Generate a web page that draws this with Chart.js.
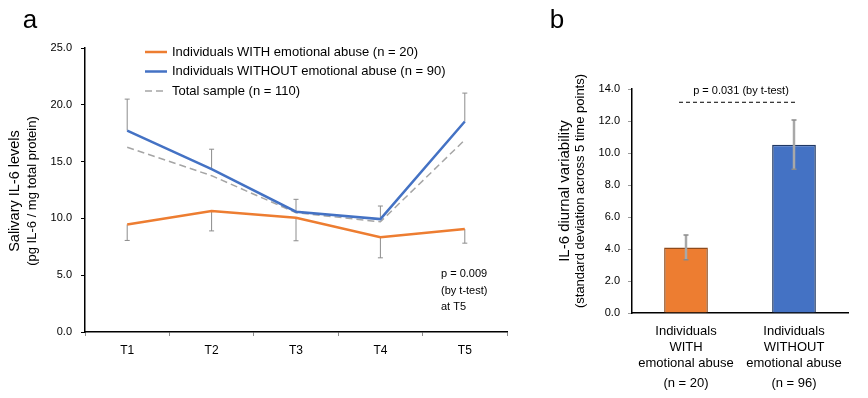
<!DOCTYPE html>
<html><head><meta charset="utf-8">
<script src="https://cdn.jsdelivr.net/npm/chart.js@4"></script>
<style>
html,body{margin:0;padding:0;background:#fff;}
#wrap{position:relative;width:868px;height:398px;overflow:hidden;}
#c1{position:absolute;left:0;top:0;}
#c2{position:absolute;left:530px;top:0;}
</style></head><body>
<div id="wrap"><canvas id="c1" width="530" height="398"></canvas><canvas id="c2" width="338" height="398"></canvas></div>
<script>
// ---- Panel a data ----
const timePoints = ['T1', 'T2', 'T3', 'T4', 'T5'];
const withAbuse = [9.47, 10.65, 10.06, 8.35, 9.06];
const withAbuseErr = [1.41, 1.75, 2.03, 1.82, 1.24];
const withoutAbuse = [17.73, 14.33, 10.59, 9.94, 18.53];
const withoutAbuseErr = [2.77, 1.76, 1.09, 1.15, 2.5];
const totalSample = [16.26, 13.76, 10.5, 9.7, 16.91];
const seriesLabels = ['Individuals WITH emotional abuse (n = 20)', 'Individuals WITHOUT emotional abuse (n = 90)', 'Total sample (n = 110)'];
const yTicksA = [0, 5, 10, 15, 20, 25];
const noteA = ['p = 0.009', '(by t-test)', 'at T5'];

// ---- Panel b data ----
const groups = [['Individuals', 'WITH', 'emotional abuse'], ['Individuals', 'WITHOUT', 'emotional abuse']];
const groupN = ['(n = 20)', '(n = 96)'];
const variability = [4.1, 10.52];
const variabilityErr = [0.77, 1.54];
const yTicksB = [0, 2, 4, 6, 8, 10, 12, 14];
const noteB = 'p = 0.031 (by t-test)';

const FONT = "'Liberation Sans', Arial, Helvetica, sans-serif";
Chart.defaults.font.family = FONT;
Chart.defaults.color = '#000';

const ORANGE = '#ED7D31', BLUE = '#4472C4', GRAY = '#A5A5A5';

const panelA = {
  id: 'panelA',
  beforeDatasetsDraw(chart) {
    const ctx = chart.ctx, y = chart.scales.y;
    ctx.save();
    ctx.strokeStyle = '#8C8C8C';
    ctx.lineWidth = 1;
    chart.data.datasets.forEach((ds, i) => {
      if (!ds.errors) return;
      const meta = chart.getDatasetMeta(i);
      ds.errors.forEach((e, j) => {
        const x = meta.data[j].x;
        const y0 = y.getPixelForValue(ds.data[j]);
        const y1 = y.getPixelForValue(ds.data[j] + ds.errDir * e);
        ctx.beginPath();
        ctx.moveTo(x, y0); ctx.lineTo(x, y1);
        ctx.moveTo(x - 2.5, y1); ctx.lineTo(x + 2.5, y1);
        ctx.stroke();
      });
    });
    ctx.restore();
  },
  afterDraw(chart) {
    const ctx = chart.ctx;
    ctx.save();
    ctx.fillStyle = '#000';
    ctx.font = '26px ' + FONT;
    ctx.textAlign = 'center'; ctx.textBaseline = 'middle';
    ctx.fillText('a', 30, 21);
    ctx.save();
    ctx.translate(15, 191);
    ctx.rotate(-Math.PI / 2);
    ctx.font = '14.5px ' + FONT;
    ctx.fillText('Salivary IL-6 levels', 0, 0);
    ctx.restore();
    ctx.save();
    ctx.translate(32, 191);
    ctx.rotate(-Math.PI / 2);
    ctx.font = '13px ' + FONT;
    ctx.fillText('(pg IL-6 / mg total protein)', 0, 0);
    ctx.restore();
    ctx.textAlign = 'left';
    ctx.font = '13px ' + FONT;
    chart.data.datasets.forEach((ds, i) => {
      const yy = 52 + i * 19.5;
      ctx.strokeStyle = ds.borderColor;
      ctx.lineWidth = ds.borderWidth;
      ctx.setLineDash(ds.borderDash || []);
      ctx.beginPath(); ctx.moveTo(145, yy); ctx.lineTo(167, yy); ctx.stroke();
      ctx.setLineDash([]);
      ctx.fillText(ds.label, 172, yy);
    });
    ctx.font = '11px ' + FONT;
    noteA.forEach((t, i) => ctx.fillText(t, 441, 274 + i * 16.7));
    ctx.restore();
  }
};

new Chart(document.getElementById('c1'), {
  type: 'line',
  data: {
    labels: timePoints,
    datasets: [
      { label: seriesLabels[0], data: withAbuse, borderColor: ORANGE, borderWidth: 2.5, pointRadius: 0, errors: withAbuseErr, errDir: -1 },
      { label: seriesLabels[1], data: withoutAbuse, borderColor: BLUE, borderWidth: 2.5, pointRadius: 0, errors: withoutAbuseErr, errDir: 1 },
      { label: seriesLabels[2], data: totalSample, borderColor: GRAY, borderWidth: 1.5, borderDash: [7, 4], pointRadius: 0 }
    ]
  },
  options: {
    responsive: false, animation: false,
    layout: { padding: { left: 0, right: 23, top: 48, bottom: 0 } },
    plugins: { legend: { display: false }, tooltip: { enabled: false } },
    scales: {
      x: {
        offset: true,
        grid: { offset: true, drawOnChartArea: false, tickLength: 4, color: '#8C8C8C' },
        border: { color: '#000', width: 1.5 },
        ticks: { font: { size: 12 }, padding: 7, color: '#000' },
        afterFit(s) { s.height = 66; }
      },
      y: {
        min: 0, max: 25,
        afterBuildTicks(s) { s.ticks = yTicksA.map(v => ({ value: v })); },
        ticks: { callback: v => Number(v).toFixed(1), font: { size: 11 }, padding: 9, color: '#000' },
        grid: { drawOnChartArea: false, tickLength: 4, color: '#000' },
        border: { color: '#000', width: 1.5 },
        afterFit(s) { s.width = 85; }
      }
    }
  },
  plugins: [panelA]
});

const panelB = {
  id: 'panelB',
  afterDatasetsDraw(chart) {
    const ctx = chart.ctx, y = chart.scales.y;
    const ds = chart.data.datasets[0];
    const meta = chart.getDatasetMeta(0);
    ctx.save();
    ds.errors.forEach((e, j) => {
      const x = meta.data[j].x;
      const y1 = y.getPixelForValue(ds.data[j] + e);
      const y2 = y.getPixelForValue(ds.data[j] - e);
      ctx.strokeStyle = '#A8A8A8';
      ctx.lineWidth = 2.5;
      ctx.beginPath(); ctx.moveTo(x, y1); ctx.lineTo(x, y2); ctx.stroke();
      ctx.strokeStyle = '#8A8A8A';
      ctx.lineWidth = 1.5;
      ctx.beginPath();
      ctx.moveTo(x - 2.5, y1); ctx.lineTo(x + 2.5, y1);
      ctx.moveTo(x - 2.5, y2); ctx.lineTo(x + 2.5, y2);
      ctx.stroke();
    });
    const x0 = meta.data[0].x, x1 = meta.data[1].x;
    const yl = y.getPixelForValue(13.17);
    ctx.strokeStyle = '#000'; ctx.lineWidth = 1; ctx.setLineDash([4, 3]);
    ctx.beginPath(); ctx.moveTo(x0 - 7, yl); ctx.lineTo(x1 + 2, yl); ctx.stroke();
    ctx.setLineDash([]);
    ctx.fillStyle = '#000';
    ctx.font = '11px ' + FONT;
    ctx.textAlign = 'center'; ctx.textBaseline = 'middle';
    ctx.fillText(noteB, (x0 + x1) / 2 + 1, yl - 11);
    ctx.font = '13px ' + FONT;
    groupN.forEach((t, j) => ctx.fillText(t, meta.data[j].x, 383));
    ctx.font = '26px ' + FONT;
    ctx.fillText('b', 27, 21);
    ctx.save();
    ctx.translate(35, 191);
    ctx.rotate(-Math.PI / 2);
    ctx.font = '15px ' + FONT;
    ctx.fillText('IL-6 diurnal variability', 0, 0);
    ctx.restore();
    ctx.save();
    ctx.translate(50, 191);
    ctx.rotate(-Math.PI / 2);
    ctx.font = '13px ' + FONT;
    ctx.fillText('(standard deviation across 5 time points)', 0, 0);
    ctx.restore();
    ctx.restore();
  }
};

new Chart(document.getElementById('c2'), {
  type: 'bar',
  data: {
    labels: groups,
    datasets: [{
      data: variability,
      backgroundColor: [ORANGE, BLUE],
      borderColor: ['#8F4A1A', '#203864'],
      borderWidth: 1.5,
      barPercentage: 0.405,
      categoryPercentage: 1,
      errors: variabilityErr
    }]
  },
  options: {
    responsive: false, animation: false,
    layout: { padding: { left: 0, right: 20, top: 89, bottom: 0 } },
    plugins: { legend: { display: false }, tooltip: { enabled: false } },
    scales: {
      x: {
        grid: { drawOnChartArea: false, drawTicks: false },
        border: { color: '#000', width: 1.5 },
        ticks: { font: { size: 13, lineHeight: 1.23 }, padding: 10, color: '#000', maxRotation: 0, autoSkip: false },
        afterFit(s) { s.height = 85; }
      },
      y: {
        min: 0, max: 14,
        afterBuildTicks(s) { s.ticks = yTicksB.map(v => ({ value: v })); },
        ticks: { callback: v => Number(v).toFixed(1), font: { size: 11 }, padding: 8, color: '#000' },
        grid: { drawOnChartArea: false, tickLength: 4, color: '#9A9A9A' },
        border: { color: '#000', width: 1.5 },
        afterFit(s) { s.width = 102; }
      }
    }
  },
  plugins: [panelB]
});
</script>
</body></html>
